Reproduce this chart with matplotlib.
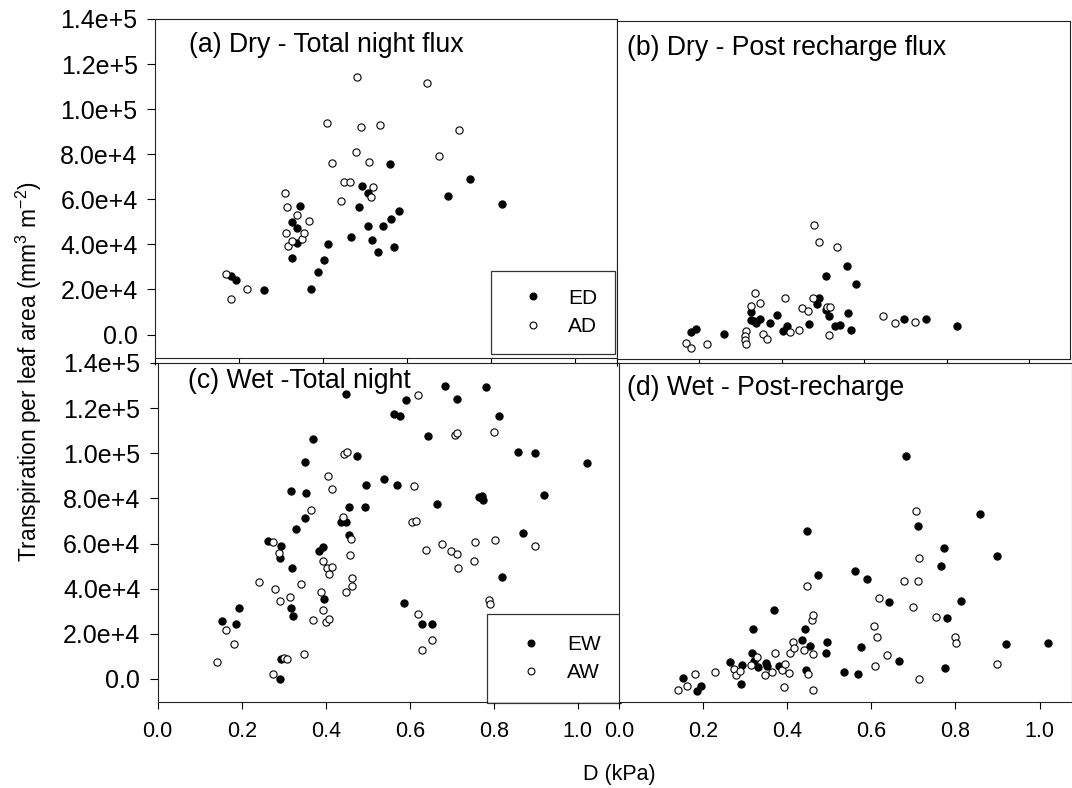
import numpy as np
import matplotlib
matplotlib.use('Agg')
import matplotlib.pyplot as plt
from matplotlib.ticker import FuncFormatter

plt.rcParams['font.family'] = ['Liberation Sans', 'DejaVu Sans']
plt.rcParams['mathtext.fontset'] = 'custom'
plt.rcParams['mathtext.rm'] = 'Liberation Sans'
plt.rcParams['mathtext.it'] = 'Liberation Sans:italic'

# (a) Dry - total night flux
dry_total_ed_x = [0.180, 0.194, 0.259, 0.326, 0.346, 0.337, 0.337, 0.326, 0.372, 0.389, 0.402, 0.413, 0.466, 0.486,
                  0.492, 0.508, 0.508, 0.516, 0.530, 0.543, 0.561, 0.560, 0.568, 0.581, 0.698, 0.751, 0.825]
dry_total_ed_y = [25900, 24400, 19800, 49900, 57000, 47200, 40700, 33800, 20300, 27700, 33000, 40100, 43400, 56600,
                  65800, 62700, 48300, 42000, 36700, 48300, 51200, 75800, 38900, 54800, 61300, 68900, 57800]
dry_total_ad_x = [0.169, 0.181, 0.219, 0.310, 0.314, 0.311, 0.316, 0.326, 0.337, 0.349, 0.355, 0.367, 0.409, 0.421,
                  0.443, 0.449, 0.464, 0.478, 0.480, 0.490, 0.509, 0.519, 0.515, 0.535, 0.647, 0.676, 0.724]
dry_total_ad_y = [26900, 15600, 20400, 62700, 56400, 44900, 39400, 41500, 52900, 42200, 45000, 50200, 94000, 76100,
                  59200, 67800, 67800, 81200, 114200, 92100, 76400, 65600, 61200, 93000, 111400, 79400, 90800]

# (b) Dry - post recharge flux
dry_post_ed_x = [0.179, 0.192, 0.259, 0.325, 0.324, 0.333, 0.337, 0.346, 0.371, 0.387, 0.402, 0.412, 0.466, 0.485,
                 0.491, 0.507, 0.506, 0.515, 0.528, 0.541, 0.559, 0.560, 0.567, 0.580, 0.696, 0.750, 0.824]
dry_post_ed_y = [1800, 2900, 600, 10400, 7100, 6400, 5600, 7600, 5800, 9200, 2200, 4400, 5200, 13900,
                 16900, 26500, 11200, 8700, 4100, 4600, 31100, 10000, 2400, 22800, 7200, 7200, 4300]
dry_post_ad_x = [0.168, 0.180, 0.219, 0.313, 0.310, 0.311, 0.314, 0.325, 0.336, 0.346, 0.355, 0.365, 0.407, 0.420,
                 0.442, 0.449, 0.463, 0.476, 0.479, 0.490, 0.509, 0.517, 0.514, 0.534, 0.646, 0.675, 0.723]
dry_post_ad_y = [-3100, -5600, -3900, 2200, 0, -2100, -3900, 13300, 18900, 14500, 600, -1600, 16900, 1800,
                 2400, 12100, 10800, 16900, 49300, 41800, 12700, 12700, 100, 39600, 8700, 5600, 5900]

# (c) Wet - total night
wet_total_ew_x = [0.154, 0.187, 0.194, 0.263, 0.294, 0.292, 0.293, 0.290, 0.320, 0.318, 0.322, 0.317, 0.330, 0.350,
                  0.352, 0.351, 0.369, 0.383, 0.394, 0.397, 0.437, 0.448, 0.455, 0.456, 0.449, 0.474, 0.494, 0.496,
                  0.538, 0.562, 0.577, 0.569, 0.590, 0.586, 0.630, 0.654, 0.644, 0.666, 0.683, 0.713, 0.765, 0.771,
                  0.774, 0.782, 0.813, 0.819, 0.859, 0.869, 0.899, 0.920, 1.023]
wet_total_ew_y = [25800, 24500, 31400, 61200, 58700, 53800, 8900, 100, 49000, 31400, 27700, 83400, 66400, 71100,
                  82400, 96200, 106300, 56700, 58600, 35600, 69700, 69700, 76000, 63800, 126200, 98600, 76200, 85900,
                  88800, 117500, 116500, 85900, 123500, 33800, 24400, 24500, 107600, 77300, 129600, 124000, 80700, 80900,
                  79400, 129300, 116700, 45200, 100500, 64500, 100300, 81300, 95500]
wet_total_aw_x = [0.141, 0.163, 0.182, 0.240, 0.275, 0.280, 0.290, 0.289, 0.275, 0.301, 0.308, 0.316, 0.340, 0.348,
                  0.364, 0.370, 0.389, 0.393, 0.393, 0.401, 0.407, 0.404, 0.409, 0.416, 0.405, 0.414, 0.440, 0.443,
                  0.450, 0.449, 0.458, 0.461, 0.463, 0.462, 0.610, 0.606, 0.615, 0.619, 0.620, 0.638, 0.630, 0.654,
                  0.678, 0.698, 0.707, 0.713, 0.712, 0.716, 0.753, 0.755, 0.788, 0.790, 0.801, 0.802, 0.899]
wet_total_aw_y = [7700, 21500, 15600, 42900, 60800, 39900, 34500, 55900, 2300, 9100, 8900, 36300, 42200, 10900,
                  74800, 26100, 38700, 52200, 30700, 25400, 26600, 49200, 46300, 49400, 89900, 84000, 71600, 99600,
                  100500, 38700, 54700, 61800, 44900, 41200, 85600, 69500, 70000, 125800, 28800, 57100, 12700, 17300,
                  59800, 56800, 108000, 108800, 55200, 49000, 52100, 60700, 35000, 33300, 109500, 61400, 58700]

# (d) Wet - post-recharge
wet_post_ew_x = [0.153, 0.186, 0.194, 0.263, 0.290, 0.292, 0.317, 0.319, 0.321, 0.330, 0.350, 0.351, 0.369, 0.380,
                 0.436, 0.443, 0.448, 0.445, 0.455, 0.473, 0.491, 0.494, 0.536, 0.561, 0.568, 0.575, 0.590, 0.643,
                 0.665, 0.682, 0.712, 0.765, 0.773, 0.780, 0.774, 0.813, 0.859, 0.898, 0.920, 1.021]
wet_post_ew_y = [300, -5300, -3000, 7700, -2200, 6200, 11300, 22100, 8100, 5400, 7200, 5600, 30600, 5800,
                 17400, 22300, 65400, 4100, 14400, 46200, 11300, 16200, 3100, 47800, 2000, 14200, 44100, 34100,
                 8000, 98700, 67900, 49900, 58100, 27000, 5000, 34400, 73300, 54300, 15500, 15900]
wet_post_aw_x = [0.140, 0.162, 0.180, 0.229, 0.274, 0.279, 0.288, 0.314, 0.329, 0.347, 0.363, 0.371, 0.388, 0.393,
                 0.394, 0.404, 0.407, 0.413, 0.416, 0.440, 0.448, 0.449, 0.459, 0.461, 0.461, 0.462, 0.606, 0.614,
                 0.609, 0.618, 0.638, 0.677, 0.698, 0.711, 0.707, 0.713, 0.714, 0.753, 0.800, 0.801, 0.898]
wet_post_aw_y = [-4700, -3000, 2000, 3100, 4600, 1900, 3400, 6200, 9900, 1900, 3200, 11500, 3800, -3500,
                 6600, 2800, 11500, 16500, 13500, 12700, 41000, 2000, 26100, 28200, 11100, -5000, 23300, 18600,
                 5600, 35900, 10600, 43500, 31700, 43500, 74200, 53600, 0, 27500, 18600, 16100, 6600]

y_ticks = [0, 20000, 40000, 60000, 80000, 100000, 120000, 140000]
x_ticks = [0.0, 0.2, 0.4, 0.6, 0.8, 1.0]

W, H = 1072, 788
fig = plt.figure(figsize=(10.72, 7.88), dpi=100)


def add_axes(l, r, t, b):
    return fig.add_axes([l / W, 1 - b / H, (r - l) / W, (b - t) / H])


def sci(v, pos):
    if abs(v) < 1:
        return '0.0'
    e = int(np.floor(np.log10(abs(v))))
    return f'{v / 10 ** e:.1f}e+{e}'


def setup(ax, xlim, ylim, show_y, show_x):
    ax.set_xlim(xlim)
    ax.set_ylim(ylim)
    ax.set_xticks(x_ticks)
    ax.tick_params(axis='x', direction='out', length=5, width=0.8, pad=9,
                   labelsize=15.5, labelbottom=show_x)
    if show_y:
        ax.set_yticks(y_ticks)
        ax.yaxis.set_major_formatter(FuncFormatter(sci))
        ax.tick_params(axis='y', direction='out', length=6, width=0.8, pad=6.5, labelsize=18)
    else:
        ax.set_yticks([])
    for s in ax.spines.values():
        s.set_linewidth(0.8)
        s.set_color('#222222')


def points(ax, fx, fy, ox, oy, lf, lo):
    ax.plot(fx, fy, 'o', ms=5.2, mfc='black', mec='black', mew=0.8, label=lf)
    ax.plot(ox, oy, 'o', ms=5.2, mfc='white', mec='black', mew=0.8, label=lo)


ax_a = add_axes(155, 617, 19, 358)
ax_c = add_axes(157.7, 619.7, 363, 701.5)
ax_b = add_axes(617, 1070, 21, 359)
ax_d = add_axes(619, 1072, 363, 701.5)

setup(ax_a, (0, 1.1), (-10400, 140000), True, False)
setup(ax_b, (0.021, 1.099), (-10400, 140000), False, False)
setup(ax_c, (0, 1.1), (-10000, 140000), True, True)
setup(ax_d, (0, 1.077), (-10000, 140000), False, True)

points(ax_a, dry_total_ed_x, dry_total_ed_y, dry_total_ad_x, dry_total_ad_y, 'ED', 'AD')
points(ax_b, dry_post_ed_x, dry_post_ed_y, dry_post_ad_x, dry_post_ad_y, 'ED', 'AD')
points(ax_c, wet_total_ew_x, wet_total_ew_y, wet_total_aw_x, wet_total_aw_y, 'EW', 'AW')
points(ax_d, wet_post_ew_x, wet_post_ew_y, wet_post_aw_x, wet_post_aw_y, 'EW', 'AW')

for ax, anchor, bp in [(ax_a, (0.727, 0.257), 0.85), (ax_c, (0.712, 0.2585), 1.0)]:
    leg = ax.legend(loc='upper left', bbox_to_anchor=anchor, borderaxespad=0, numpoints=1,
                    fontsize=15, frameon=True, fancybox=False, edgecolor='black',
                    borderpad=bp, labelspacing=0.45, handlelength=2.3, handletextpad=0.55,
                    markerscale=0.95)
    leg.get_frame().set_linewidth(0.9)
    leg.set_zorder(5)

ax_a.text(0.0736, 0.923, '(a) Dry - Total night flux', transform=ax_a.transAxes,
          fontsize=19.2, va='center', ha='left')
ax_b.text(0.0227, 0.921, '(b) Dry - Post recharge flux', transform=ax_b.transAxes,
          fontsize=19.2, va='center', ha='left')
ax_c.text(0.066, 0.947, '(c) Wet -Total night', transform=ax_c.transAxes,
          fontsize=19.2, va='center', ha='left')
ax_d.text(0.017, 0.926, '(d) Wet - Post-recharge', transform=ax_d.transAxes,
          fontsize=19.2, va='center', ha='left')

fig.text(0.027, 0.528, 'Transpiration per leaf area (mm$^{3}$ m$^{-2}$)', rotation=90,
         fontsize=16.4, ha='center', va='center')
fig.text(0.578, 0.0165, 'D (kPa)', fontsize=15.5, ha='center', va='center')

fig.savefig('out.png', dpi=100)
